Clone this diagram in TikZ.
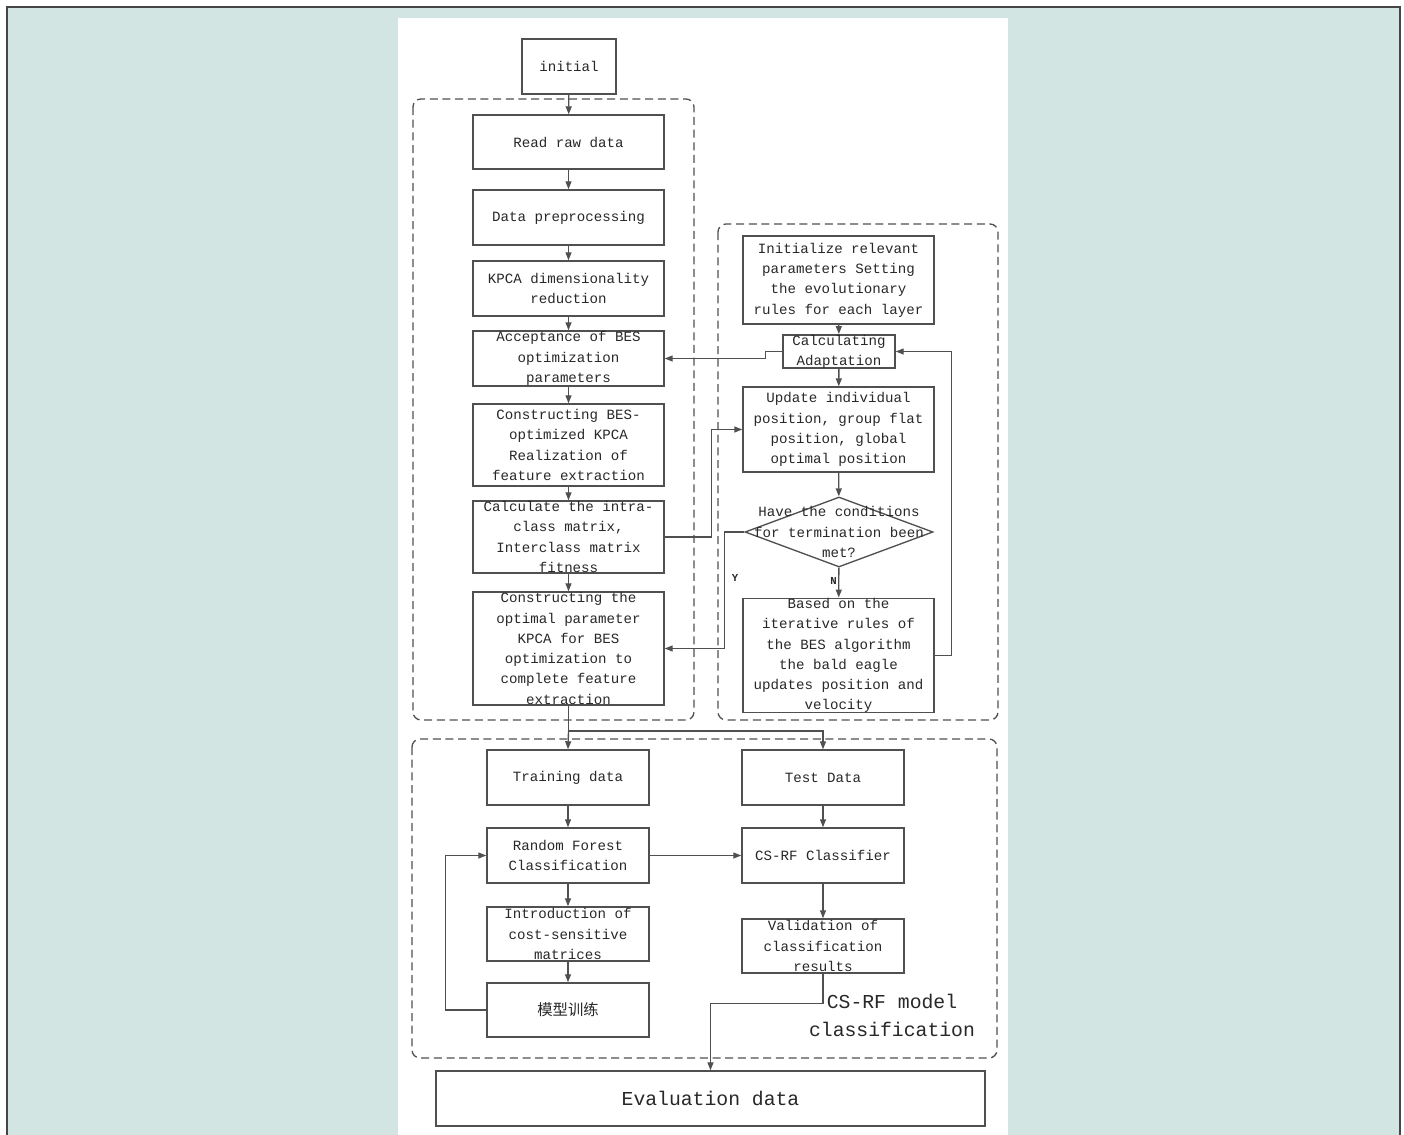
\documentclass[tikz,border=0pt]{standalone}
\usepackage{fontspec}
\setmonofont{Liberation Mono}
\newfontfamily\cjkfont{Noto Sans CJK SC}
\usepackage{xcolor}
\usetikzlibrary{shapes.geometric}
\usetikzlibrary{arrows.meta}

\definecolor{bgteal}{RGB}{210,229,227}
\definecolor{frameg}{RGB}{70,70,70}
\definecolor{lineg}{RGB}{80,80,80}
\definecolor{textg}{RGB}{40,40,40}

\tikzset{
  box/.style={draw=lineg, line width=1.1pt, fill=white, inner sep=0pt, align=center,
    text=textg, font=\ttfamily\fontsize{10.6}{15.2}\selectfont},
  colL/.style={minimum width=143.25pt},
  colB/.style={minimum width=121.5pt},
  decision/.style={diamond, draw=lineg, line width=1pt, fill=white, inner sep=0pt,
    minimum width=141pt, minimum height=52.5pt},
  txt/.style={inner sep=0pt, align=center, text=textg, font=\ttfamily\fontsize{10.6}{15.2}\selectfont},
  bigtxt/.style={inner sep=0pt, align=center, text=textg, font=\ttfamily\fontsize{14.8}{21}\selectfont},
  group/.style={draw=lineg, line width=1pt, dash pattern=on 6pt off 3.5pt, rounded corners=6pt},
  arr/.style={draw=lineg, line width=1pt, -{Triangle[length=6pt,width=4.5pt]}},
  plain/.style={draw=lineg, line width=1pt}
}

\begin{document}
\begin{tikzpicture}[x=0.75pt,y=0.75pt,yscale=-1,xscale=1]
\useasboundingbox (0,0) rectangle (1404,1135);

% page and panel
\fill[white] (0,0) rectangle (1404,1135);
\fill[bgteal] (7,7) rectangle (1400,1135);
\draw[frameg, line width=1.5pt] (7,1135) -- (7,7) -- (1400,7) -- (1400,1135);
\fill[white] (398,18) rectangle (1008,1135);

% dashed groups
\draw[group] (413,99) rectangle (694,720);
\draw[group] (718,224) rectangle (998,720);
\draw[group] (412,739) rectangle (997,1058);

% Text Node
\node[box, minimum width=70.5pt, minimum height=41.25pt] (init) at (569,66.5) {initial};
% left column
\node[box, colL, minimum height=40.5pt] (raw) at (568.5,142) {Read raw data};
\node[box, colL, minimum height=41.25pt] (prep) at (568.5,217.5) {Data preprocessing};
\node[box, colL, minimum height=41.25pt] (kpca) at (568.5,288.5) {KPCA dimensionality\\reduction};
\node[box, colL, minimum height=41.25pt] (accept) at (568.5,358.5) {Acceptance of BES\\optimization\\parameters};
\node[box, colL, minimum height=61.5pt] (construct) at (568.5,445) {Constructing BES-\\optimized KPCA\\Realization of\\feature extraction};
\node[box, colL, minimum height=54pt] (calc) at (568.5,537) {Calculate the intra-\\class matrix,\\Interclass matrix\\fitness};
\node[box, colL, minimum height=84.75pt] (optimal) at (568.5,648.5) {Constructing the\\optimal parameter\\KPCA for BES\\optimization to\\complete feature\\extraction};

% right column
\node[box, colL, minimum height=66pt] (initset) at (838.5,280) {Initialize relevant\\parameters Setting\\the evolutionary\\rules for each layer};
\node[box, minimum width=84pt, minimum height=24.75pt] (adapt) at (839,351.5) {Calculating\\Adaptation};
\node[box, colL, minimum height=63.75pt] (update) at (838.5,429.5) {Update individual\\position, group flat\\position, global\\optimal position};
\node[decision] (cond) at (839,532) {};
\node[txt] (condtxt) at (cond) {Have the conditions\\for termination been\\met?};
\node[box, colL, minimum height=84.75pt] (based) at (838.5,655.5) {Based on the\\iterative rules of\\the BES algorithm\\the bald eagle\\updates position and\\velocity};

% bottom part
\node[box, colB, minimum height=41.25pt] (train) at (568,777.5) {Training data};
\node[box, colB, minimum height=41.25pt] (test) at (823,777.5) {Test Data};
\node[box, colB, minimum height=41.25pt] (rf) at (568,855.5) {Random Forest\\Classification};
\node[box, colB, minimum height=41.25pt] (csrf) at (823,855.5) {CS-RF Classifier};
\node[box, colB, minimum height=40.5pt] (intro) at (568,934) {Introduction of\\cost-sensitive\\matrices};
\node[box, colB, minimum height=40.5pt] (valid) at (823,946) {Validation of\\classification\\results};
\node[box, colB, minimum height=40.5pt, font=\cjkfont\fontsize{11.5}{15}\selectfont] (model) at (568,1010) {模型训练};
\node[box, minimum width=411.75pt, minimum height=41.25pt, font=\ttfamily\fontsize{14.8}{21}\selectfont] (eval) at (710.5,1098.5) {Evaluation data};
\node[bigtxt] (grouplbl) at (892,1015) {CS-RF model\\classification};

%Straight Lines
\draw[arr] (init) -- (raw);
\draw[arr] (raw) -- (prep);
\draw[arr] (prep) -- (kpca);
\draw[arr] (kpca) -- (accept);
\draw[arr] (accept) -- (construct);
\draw[arr] (construct) -- (calc);
\draw[arr] (calc) -- (optimal);

\draw[arr] (initset) -- (adapt);
\draw[arr] (adapt) -- (update);
\draw[arr] (update) -- (cond);
\draw[arr] (cond) -- node[txt, font=\ttfamily\bfseries\fontsize{8}{9}\selectfont, left=1pt, pos=0.45] (nlbl) {N} (based);

\draw[arr] (adapt.west) -- ++(-17,0) |- (accept.east);
\draw[arr] (calc.east) -- ++(47,0) |- (update.west);
\draw[arr] (cond.west) -- ++(-20,0) |- (optimal.east);
\node[txt, font=\ttfamily\bfseries\fontsize{8}{9}\selectfont] (ylbl) at (735,578) {Y};
\draw[arr] (based.east) -- ++(17,0) |- (adapt.east);

\coordinate (split) at (568.5,731);
\draw[plain] (optimal.south) -- (split);
\draw[arr] (split) -- (train.north);
\draw[arr] (split) -| (test.north);

\draw[arr] (train) -- (rf);
\draw[arr] (rf) -- (intro);
\draw[arr] (intro) -- (model);
\draw[arr] (test) -- (csrf);
\draw[arr] (csrf) -- (valid);
\draw[arr] (rf) -- (csrf);
\draw[arr] (model.west) -- ++(-41,0) |- (rf.west);
\draw[arr] (valid.south) -- ++(0,30) -| (eval.north);

\end{tikzpicture}
\end{document}
